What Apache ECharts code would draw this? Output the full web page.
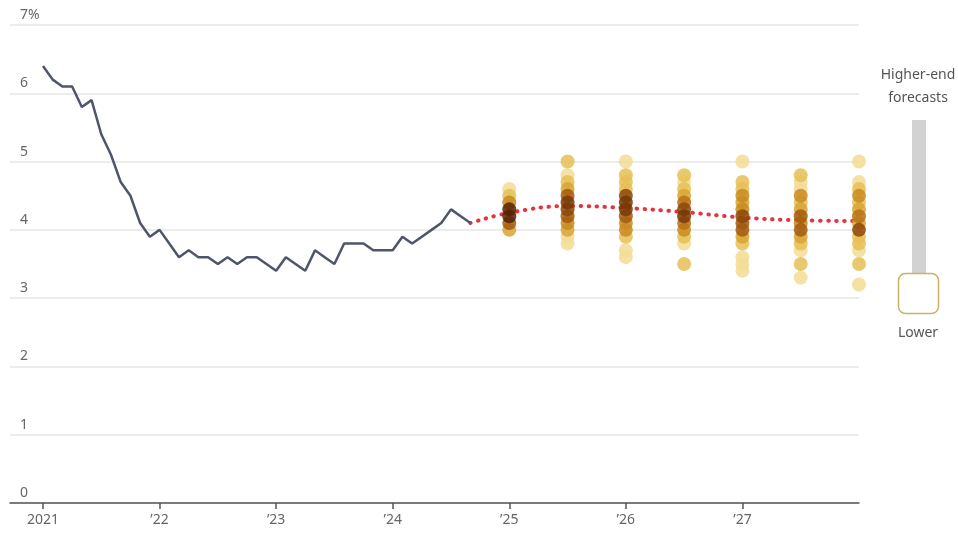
<!DOCTYPE html>
<html>
<head>
<meta charset="utf-8">
<script src="https://cdn.jsdelivr.net/npm/echarts@6/dist/echarts.min.js"></script>
<style>
html,body{margin:0;padding:0;background:#fff;}
#chart{width:958px;height:534px;}
</style>
</head>
<body>
<div id="chart"></div>
<script>
// ---- Data ----
const tickYears = [2021, 2022, 2023, 2024, 2025, 2026, 2027];
const tickLabels = ['2021', '\u201922', '\u201923', '\u201924', '\u201925', '\u201926', '\u201927'];
const yTicks = [0, 1, 2, 3, 4, 5, 6, 7];
// Monthly unemployment rate, Jan 2021 - Sep 2024
const actualStart = 2021;
const actualRates = [6.4, 6.2, 6.1, 6.1, 5.8, 5.9, 5.4, 5.1, 4.7, 4.5, 4.1, 3.9,
  4.0, 3.8, 3.6, 3.7, 3.6, 3.6, 3.5, 3.6, 3.5, 3.6, 3.6, 3.5,
  3.4, 3.6, 3.5, 3.4, 3.7, 3.6, 3.5, 3.8, 3.8, 3.8, 3.7, 3.7,
  3.7, 3.9, 3.8, 3.9, 4.0, 4.1, 4.3, 4.2, 4.1];
// Forecast periods (positions on the year axis) and average forecast
const forecastX = [2025, 2025.5, 2026, 2026.5, 2027, 2027.5, 2028];
const forecastAvg = [4.25, 4.35, 4.32, 4.26, 4.18, 4.14, 4.13];
// Individual forecasts: [rate, number of forecasters]
const fc1 = [[4.6,1],[4.5,2],[4.4,4],[4.3,12],[4.2,14],[4.1,6],[4.0,3]];
const fc2 = [[5.0,2],[4.8,1],[4.7,2],[4.6,3],[4.5,6],[4.4,8],[4.3,7],[4.2,6],[4.1,4],[4.0,3],[3.9,1],[3.8,1]];
const fc3 = [[5.0,1],[4.8,2],[4.7,2],[4.6,2],[4.5,7],[4.4,8],[4.3,8],[4.2,6],[4.1,4],[4.0,4],[3.9,2],[3.7,1],[3.6,1]];
const fc4 = [[4.8,2],[4.7,1],[4.6,2],[4.5,3],[4.4,5],[4.3,7],[4.2,8],[4.1,5],[4.0,4],[3.9,2],[3.8,1],[3.5,2]];
const fc5 = [[5.0,1],[4.7,2],[4.6,2],[4.5,4],[4.4,3],[4.3,4],[4.2,7],[4.1,6],[4.0,6],[3.9,3],[3.8,2],[3.6,1],[3.5,1],[3.4,1]];
const fc6 = [[4.8,2],[4.7,1],[4.6,1],[4.5,4],[4.4,2],[4.3,3],[4.2,6],[4.1,4],[4.0,6],[3.9,3],[3.8,2],[3.7,1],[3.5,2],[3.3,1]];
const fc7 = [[5.0,1],[4.7,1],[4.6,2],[4.5,4],[4.4,2],[4.3,3],[4.2,5],[4.1,3],[4.0,7],[3.9,2],[3.8,2],[3.7,1],[3.5,2],[3.2,1]];
const forecastSets = [fc1, fc2, fc3, fc4, fc5, fc6, fc7];

// ---- Styles ----
const dotPalette = ['#f3dc94', '#e6bf55', '#d9a332', '#c98a1e', '#b87114', '#a35a0c', '#8c4607', '#783703', '#6e3002', '#662b01', '#5f2600', '#582100'];
const FONT = "'Noto Sans', 'Open Sans', sans-serif";

// ---- Build series data ----
const lineData = actualRates.map((v, i) => [actualStart + i / 12, v]);
const lastPt = lineData[lineData.length - 1];
const avgData = [lastPt].concat(forecastX.map((x, i) => [x, forecastAvg[i]]));
let dots = [];
forecastSets.forEach((set, i) => {
  set.forEach(p => dots.push([forecastX[i], p[0], p[1]]));
});
dots.sort((a, b) => a[2] - b[2]);

const chart = echarts.init(document.getElementById('chart'), null, {renderer: 'canvas'});
chart.setOption({
  animation: false,
  backgroundColor: '#fff',
  grid: {left: 10, right: 99, top: 25, bottom: 31},
  xAxis: {
    type: 'value',
    min: 2020.717,
    max: 2028,
    axisLine: {show: true, onZero: false, lineStyle: {color: '#555', width: 1.5}},
    axisTick: {show: true, customValues: tickYears, length: 6, lineStyle: {color: '#555', width: 1.5}},
    axisLabel: {
      customValues: tickYears,
      margin: 10,
      color: '#666',
      fontFamily: FONT,
      fontSize: 14,
      formatter: v => tickLabels[tickYears.indexOf(Math.round(v))] || ''
    },
    splitLine: {show: false}
  },
  yAxis: {
    type: 'value',
    min: 0,
    max: 7,
    interval: 1,
    axisLine: {show: false},
    axisTick: {show: false},
    axisLabel: {
      inside: true,
      margin: 10,
      verticalAlign: 'bottom',
      padding: [0, 0, 3, 0],
      color: '#666',
      fontFamily: FONT,
      fontSize: 14,
      formatter: v => (v === yTicks[yTicks.length - 1] ? v + '%' : String(v))
    },
    splitLine: {show: true, lineStyle: {color: '#e6e6e6', width: 1.5}}
  },
  series: [
    {
      type: 'line',
      data: avgData,
      smooth: 0.4,
      showSymbol: false,
      symbol: 'none',
      z: 2,
      lineStyle: {color: '#e8323c', width: 4, type: [0.5, 7.5], cap: 'round'}
    },
    {
      type: 'scatter',
      data: dots,
      symbolSize: 14,
      z: 3,
      itemStyle: {
        opacity: 0.85,
        color: p => dotPalette[Math.min(p.data[2], dotPalette.length) - 1]
      }
    },
    {
      type: 'line',
      data: lineData,
      showSymbol: false,
      symbol: 'none',
      z: 4,
      lineStyle: {color: '#4f566b', width: 2.5}
    }
  ],
  graphic: [
    {type: 'text', style: {text: 'Higher-end', x: 918, y: 75, align: 'center', verticalAlign: 'middle', fill: '#555', font: '14px ' + FONT}},
    {type: 'text', style: {text: 'forecasts', x: 918, y: 98, align: 'center', verticalAlign: 'middle', fill: '#555', font: '14px ' + FONT}},
    {type: 'rect', shape: {x: 912, y: 120, width: 14, height: 154}, style: {fill: '#d2d2d2'}},
    {type: 'rect', shape: {x: 898.5, y: 273.5, width: 40, height: 40, r: 7}, style: {fill: '#fff', stroke: '#c8b366', lineWidth: 1.5}},
    {type: 'text', style: {text: 'Lower', x: 918, y: 333, align: 'center', verticalAlign: 'middle', fill: '#555', font: '14px ' + FONT}}
  ]
});
</script>
</body>
</html>
